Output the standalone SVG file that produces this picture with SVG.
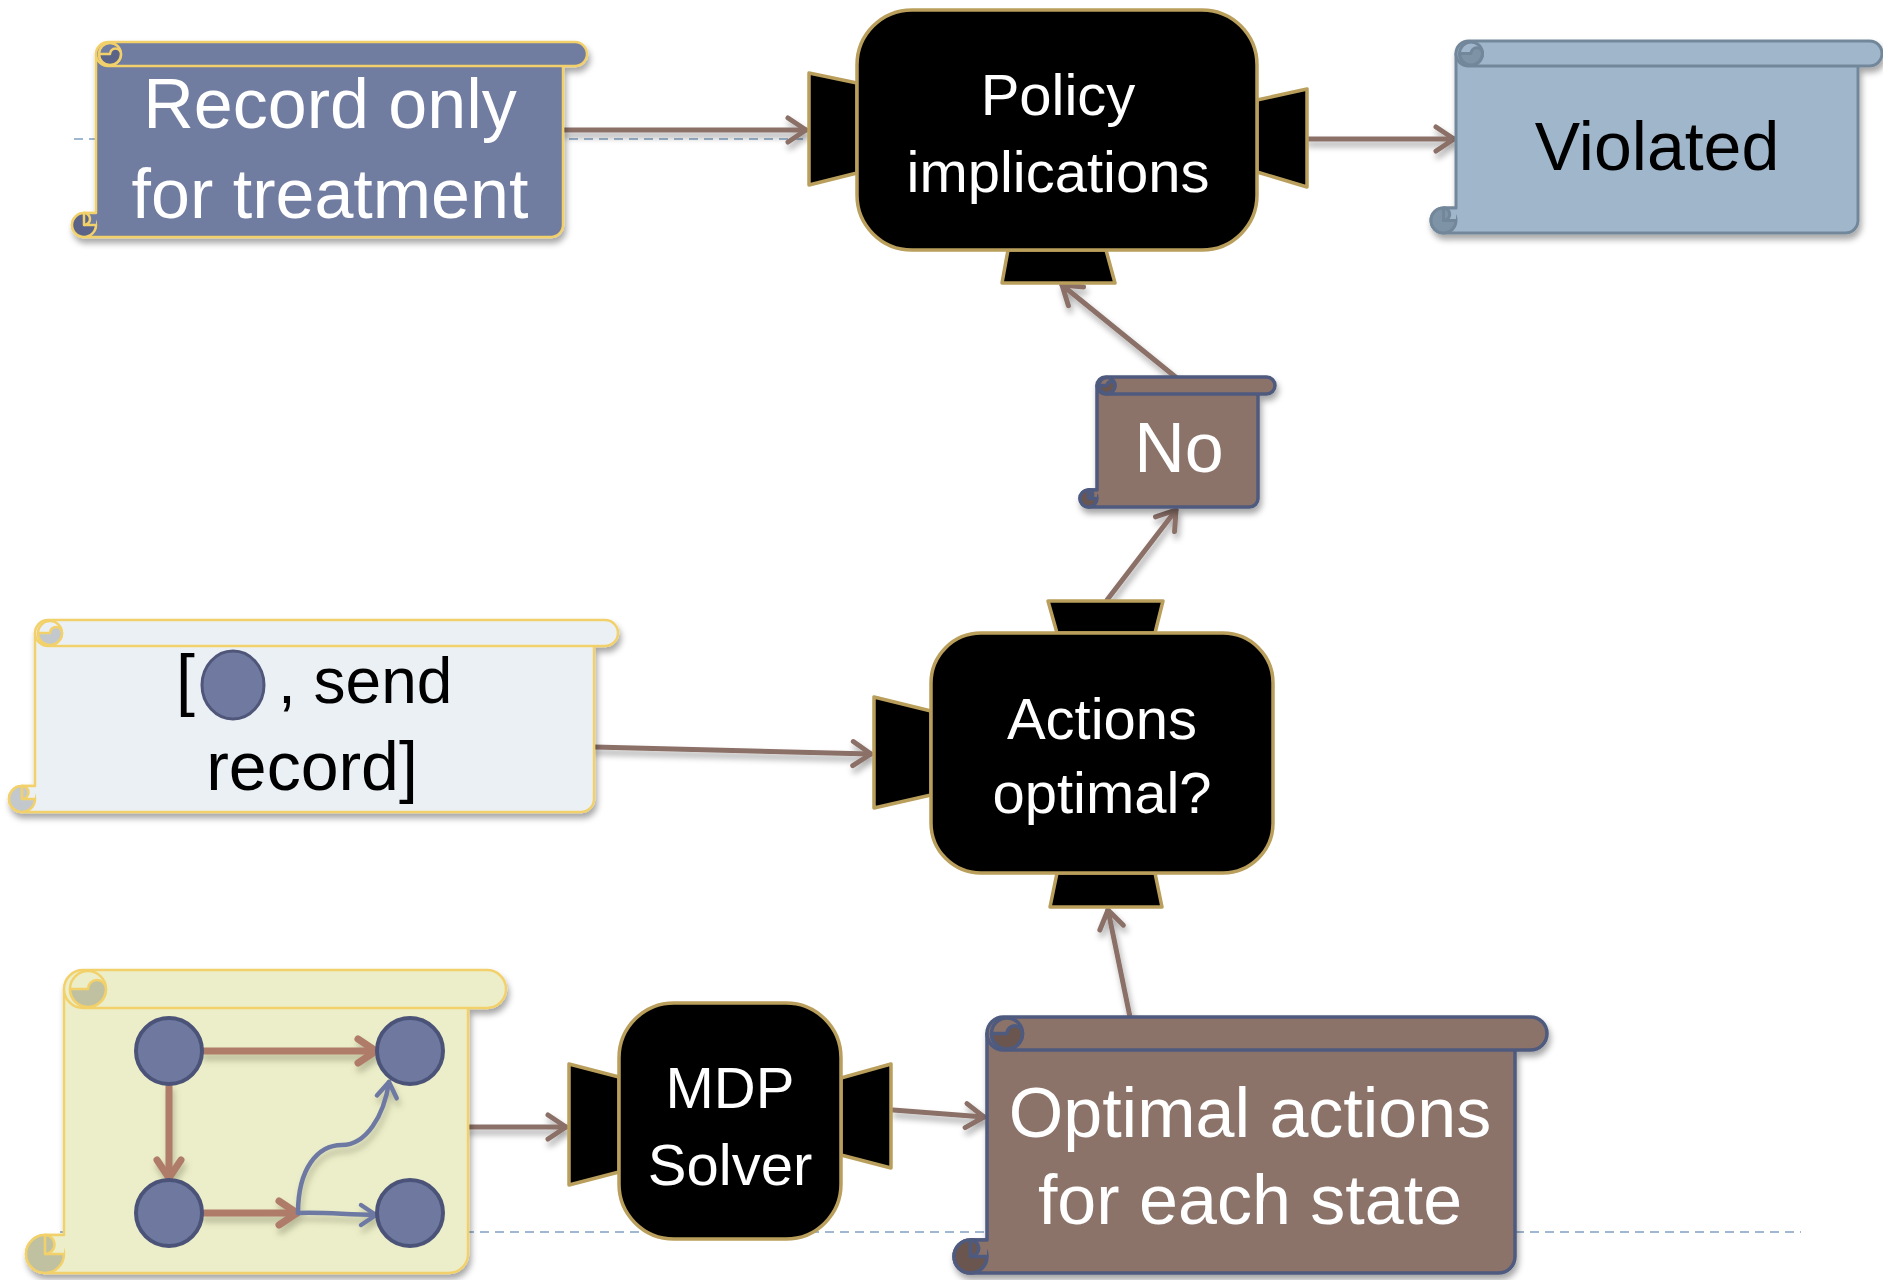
<svg xmlns="http://www.w3.org/2000/svg" width="1883" height="1280" viewBox="0 0 1883 1280">
<defs>
<style>
.dash{stroke:#9fb8d0;stroke-width:2;stroke-dasharray:9 6;fill:none}
.conn{fill:none;stroke:#8b7068;stroke-width:5;stroke-linecap:round;marker-end:url(#ah)}
.blk{fill:#000;stroke:#b99f5b;stroke-width:3.5;stroke-linejoin:round}
.wt{fill:#fff;font-family:"Liberation Sans",Arial,sans-serif;text-anchor:middle}
.bt{fill:#000;font-family:"Liberation Sans",Arial,sans-serif}
.s1{stroke:#f3d16b;stroke-width:2.5;stroke-linejoin:round}
.s2{stroke:#73879b;stroke-width:3;stroke-linejoin:round}
.s3{stroke:#4f5a7f;stroke-width:3.5;stroke-linejoin:round}
.b1{fill:#717ba1}.d1{fill:#5b6488}
.b2{fill:#a0b6cb}.d2{fill:#7f93a6}
.b3{fill:#8c736a}.d3{fill:#6b5650}
.b4{fill:#ebf0f5}.d4{fill:#c3c8cc}
.b5{fill:#eceec9}.d5{fill:#c0c1a0}
.ns{fill:none}
.gn{fill:#6f79a0;stroke:#4b5478;stroke-width:4}
.ge{fill:none;stroke:#b07b6a;stroke-width:7;stroke-linecap:round;marker-end:url(#gah)}
.gb{fill:none;stroke:#6e79a3;stroke-width:4.5;stroke-linecap:round}
</style>
<filter id="sh" x="-10%" y="-10%" width="130%" height="130%">
<feDropShadow dx="2" dy="5" stdDeviation="3" flood-color="#000" flood-opacity="0.35"/>
</filter>
<filter id="gsh" x="-10%" y="-10%" width="130%" height="140%">
<feDropShadow dx="2" dy="6" stdDeviation="3" flood-color="#6b7050" flood-opacity="0.4"/>
</filter>
<marker id="ah" viewBox="-24 -16 28 32" refX="0" refY="0" markerWidth="28" markerHeight="32" markerUnits="userSpaceOnUse" orient="auto">
<path d="M -18 -12 L 0 0 L -18 12" fill="none" stroke="#8b7068" stroke-width="5" stroke-linecap="round" stroke-linejoin="round"/>
</marker>
<marker id="gah" viewBox="-24 -16 28 32" refX="0" refY="0" markerWidth="28" markerHeight="32" markerUnits="userSpaceOnUse" orient="auto">
<path d="M -18 -12 L 0 0 L -18 12" fill="none" stroke="#b07b6a" stroke-width="7" stroke-linecap="round" stroke-linejoin="round"/>
</marker>
<marker id="bah" viewBox="-20 -14 24 28" refX="0" refY="0" markerWidth="24" markerHeight="28" markerUnits="userSpaceOnUse" orient="auto">
<path d="M -15 -10 L 0 0 L -15 10" fill="none" stroke="#6e79a3" stroke-width="4.5" stroke-linecap="round" stroke-linejoin="round"/>
</marker>
</defs>
<rect width="1883" height="1280" fill="#fff"/>

<g id="guides">
<line class="dash" x1="74" y1="139" x2="857" y2="139"/>
<line class="dash" x1="60" y1="1232" x2="1801" y2="1232"/>
</g>

<g id="connectors" filter="url(#sh)">
<line class="conn" x1="563" y1="130" x2="806" y2="130"/>
<line class="conn" x1="1307" y1="139" x2="1454" y2="139"/>
<line class="conn" x1="1178" y1="379" x2="1062" y2="285"/>
<line class="conn" x1="1107" y1="600" x2="1176" y2="510"/>
<line class="conn" x1="594" y1="747" x2="871" y2="754"/>
<line class="conn" x1="1130" y1="1017" x2="1108" y2="910"/>
<line class="conn" x1="468" y1="1127" x2="566" y2="1127"/>
<line class="conn" x1="893" y1="1110" x2="984" y2="1117"/>
</g>

<g id="record-only" filter="url(#sh)">
<path class="b1 s1" d="M 96,54 H 563 V 225 A 12 12 0 0 1 551,237 H 84 A 12 12 0 0 1 84,213 H 96 Z"/>
<circle class="d1 s1" cx="84" cy="225" r="12"/>
<path class="b1" d="M 84,213 H 96 V 225 H 84 Z"/>
<path class="ns s1" d="M 84,213 H 96 M 84,225 H 96"/>
<path class="d1 s1" d="M 84,213 A 6 6 0 0 1 84,225 Z"/>
<path class="b1 s1" d="M 108,42 H 575 A 12 12 0 0 1 575,66 H 108 A 12 12 0 0 1 108,42 Z"/>
<circle class="b1 s1" cx="110" cy="54" r="11"/>
<path class="d1 s1" d="M 99,54 A 11 11 0 0 0 121,54 A 5.5 5.5 0 0 0 110,54 Z"/>
<text class="wt" x="330" y="128" font-size="70">Record only</text>
<text class="wt" x="330" y="218" font-size="70">for treatment</text>
</g>

<g id="policy-implications">
<polygon class="blk" points="857,83 809,73 809,185 857,173"/>
<polygon class="blk" points="1257,100 1307,89 1307,187 1257,172"/>
<polygon class="blk" points="1008,250 1106,250 1115,283 1002,283"/>
<rect class="blk" x="857" y="10" width="400" height="240" rx="55"/>
<text class="wt" x="1058" y="115" font-size="58">Policy</text>
<text class="wt" x="1058" y="192" font-size="58">implications</text>
</g>

<g id="violated" filter="url(#sh)">
<path class="b2 s2" d="M 1456,53.5 H 1858 V 220.5 A 12.5 12.5 0 0 1 1845.5,233 H 1443.5 A 12.5 12.5 0 0 1 1443.5,208 H 1456 Z"/>
<circle class="d2 s2" cx="1443.5" cy="220.5" r="12.5"/>
<path class="b2" d="M 1443.5,208 H 1456 V 220.5 H 1443.5 Z"/>
<path class="ns s2" d="M 1443.5,208 H 1456 M 1443.5,220.5 H 1456"/>
<path class="d2 s2" d="M 1443.5,208 A 6.25 6.25 0 0 1 1443.5,220.5 Z"/>
<path class="b2 s2" d="M 1468.5,41 H 1869.5 A 12.5 12.5 0 0 1 1869.5,66 H 1468.5 A 12.5 12.5 0 0 1 1468.5,41 Z"/>
<circle class="b2 s2" cx="1471" cy="53.5" r="11.5"/>
<path class="d2 s2" d="M 1459.5,53.5 A 11.5 11.5 0 0 0 1482.5,53.5 A 5.75 5.75 0 0 0 1471,53.5 Z"/>
<text class="bt" x="1657" y="170" font-size="68" text-anchor="middle">Violated</text>
</g>

<g id="no" filter="url(#sh)">
<path class="b3 s3" d="M 1097,385.5 H 1258 V 498.5 A 8.5 8.5 0 0 1 1249.5,507 H 1088.5 A 8.5 8.5 0 0 1 1088.5,490 H 1097 Z"/>
<circle class="d3 s3" cx="1088.5" cy="498.5" r="8.5"/>
<path class="b3" d="M 1088.5,490 H 1097 V 498.5 H 1088.5 Z"/>
<path class="ns s3" d="M 1088.5,490 H 1097 M 1088.5,498.5 H 1097"/>
<path class="d3 s3" d="M 1088.5,490 A 4.25 4.25 0 0 1 1088.5,498.5 Z"/>
<path class="b3 s3" d="M 1105.5,377 H 1266.5 A 8.5 8.5 0 0 1 1266.5,394 H 1105.5 A 8.5 8.5 0 0 1 1105.5,377 Z"/>
<circle class="b3 s3" cx="1107" cy="385.5" r="8"/>
<path class="d3 s3" d="M 1099,385.5 A 8 8 0 0 0 1115,385.5 A 4 4 0 0 0 1107,385.5 Z"/>
<text class="wt" x="1179" y="472" font-size="70">No</text>
</g>

<g id="actions-optimal">
<polygon class="blk" points="1057,633 1155,633 1163,601 1048,601"/>
<polygon class="blk" points="931,711 874,697 874,808 931,795"/>
<polygon class="blk" points="1057,873 1155,873 1162,907 1050,907"/>
<rect class="blk" x="931" y="633" width="342" height="240" rx="50"/>
<text class="wt" x="1102" y="739" font-size="58">Actions</text>
<text class="wt" x="1102" y="813" font-size="58">optimal?</text>
</g>

<g id="send-record" filter="url(#sh)">
<path class="b4 s1" d="M 35,633 H 594 V 799 A 13 13 0 0 1 581,812 H 22 A 13 13 0 0 1 22,786 H 35 Z"/>
<circle class="d4 s1" cx="22" cy="799" r="13"/>
<path class="b4" d="M 22,786 H 35 V 799 H 22 Z"/>
<path class="ns s1" d="M 22,786 H 35 M 22,799 H 35"/>
<path class="d4 s1" d="M 22,786 A 6.5 6.5 0 0 1 22,799 Z"/>
<path class="b4 s1" d="M 48,620 H 605 A 13 13 0 0 1 605,646 H 48 A 13 13 0 0 1 48,620 Z"/>
<circle class="b4 s1" cx="50" cy="633" r="12"/>
<path class="d4 s1" d="M 38,633 A 12 12 0 0 0 62,633 A 6 6 0 0 0 50,633 Z"/>
<text class="bt" x="176" y="703" font-size="68">[</text>
<ellipse cx="233" cy="685" rx="31" ry="34" fill="#6f79a0" stroke="#4f5679" stroke-width="3"/>
<text class="bt" x="278" y="703" font-size="64">, send</text>
<text class="bt" x="312" y="790" font-size="68" text-anchor="middle">record]</text>
</g>

<g id="state-graph">
<g filter="url(#sh)">
<path class="b5 s1" d="M 64,989 H 468 V 1254 A 19 19 0 0 1 449,1273 H 45 A 19 19 0 0 1 45,1235 H 64 Z"/>
<circle class="d5 s1" cx="45" cy="1254" r="19"/>
<path class="b5" d="M 45,1235 H 64 V 1254 H 45 Z"/>
<path class="ns s1" d="M 45,1235 H 64 M 45,1254 H 64"/>
<path class="d5 s1" d="M 45,1235 A 9.5 9.5 0 0 1 45,1254 Z"/>
<path class="b5 s1" d="M 83,970 H 487 A 19 19 0 0 1 487,1008 H 83 A 19 19 0 0 1 83,970 Z"/>
<circle class="b5 s1" cx="88" cy="989" r="18"/>
<path class="d5 s1" d="M 70,989 A 18 18 0 0 0 106,989 A 9 9 0 0 0 88,989 Z"/>
</g>
<g filter="url(#gsh)">
<line class="ge" x1="203" y1="1051" x2="376" y2="1051"/>
<line class="ge" x1="169" y1="1086" x2="169" y2="1178"/>
<line class="ge" x1="203" y1="1213" x2="297" y2="1213"/>
<path class="gb" d="M 298,1213 C 330,1212 345,1215 376,1215" marker-end="url(#bah)"/>
<path class="gb" d="M 298,1213 C 298,1168 318,1145 342,1145 C 366,1145 384,1116 389,1082" marker-end="url(#bah)"/>
</g>
<circle class="gn" cx="169" cy="1051" r="33"/>
<circle class="gn" cx="410" cy="1051" r="33"/>
<circle class="gn" cx="169" cy="1213" r="33"/>
<circle class="gn" cx="410" cy="1213" r="33"/>
</g>

<g id="mdp-solver">
<polygon class="blk" points="619,1077 569,1064 569,1185 619,1172"/>
<polygon class="blk" points="841,1078 891,1064 891,1168 841,1155"/>
<rect class="blk" x="619" y="1003" width="222" height="236" rx="55"/>
<text class="wt" x="730" y="1108" font-size="58">MDP</text>
<text class="wt" x="730" y="1185" font-size="58">Solver</text>
</g>

<g id="optimal-actions" filter="url(#sh)">
<path class="b3 s3" d="M 987,1033.5 H 1515 V 1256.5 A 16.5 16.5 0 0 1 1498.5,1273 H 970.5 A 16.5 16.5 0 0 1 970.5,1240 H 987 Z"/>
<circle class="d3 s3" cx="970.5" cy="1256.5" r="16.5"/>
<path class="b3" d="M 970.5,1240 H 987 V 1256.5 H 970.5 Z"/>
<path class="ns s3" d="M 970.5,1240 H 987 M 970.5,1256.5 H 987"/>
<path class="d3 s3" d="M 970.5,1240 A 8.25 8.25 0 0 1 970.5,1256.5 Z"/>
<path class="b3 s3" d="M 1003.5,1017 H 1530.5 A 16.5 16.5 0 0 1 1530.5,1050 H 1003.5 A 16.5 16.5 0 0 1 1003.5,1017 Z"/>
<circle class="b3 s3" cx="1007" cy="1033.5" r="15.5"/>
<path class="d3 s3" d="M 991.5,1033.5 A 15.5 15.5 0 0 0 1022.5,1033.5 A 7.75 7.75 0 0 0 1007,1033.5 Z"/>
<text class="wt" x="1250" y="1137" font-size="70">Optimal actions</text>
<text class="wt" x="1250" y="1224" font-size="70">for each state</text>
</g>
</svg>
